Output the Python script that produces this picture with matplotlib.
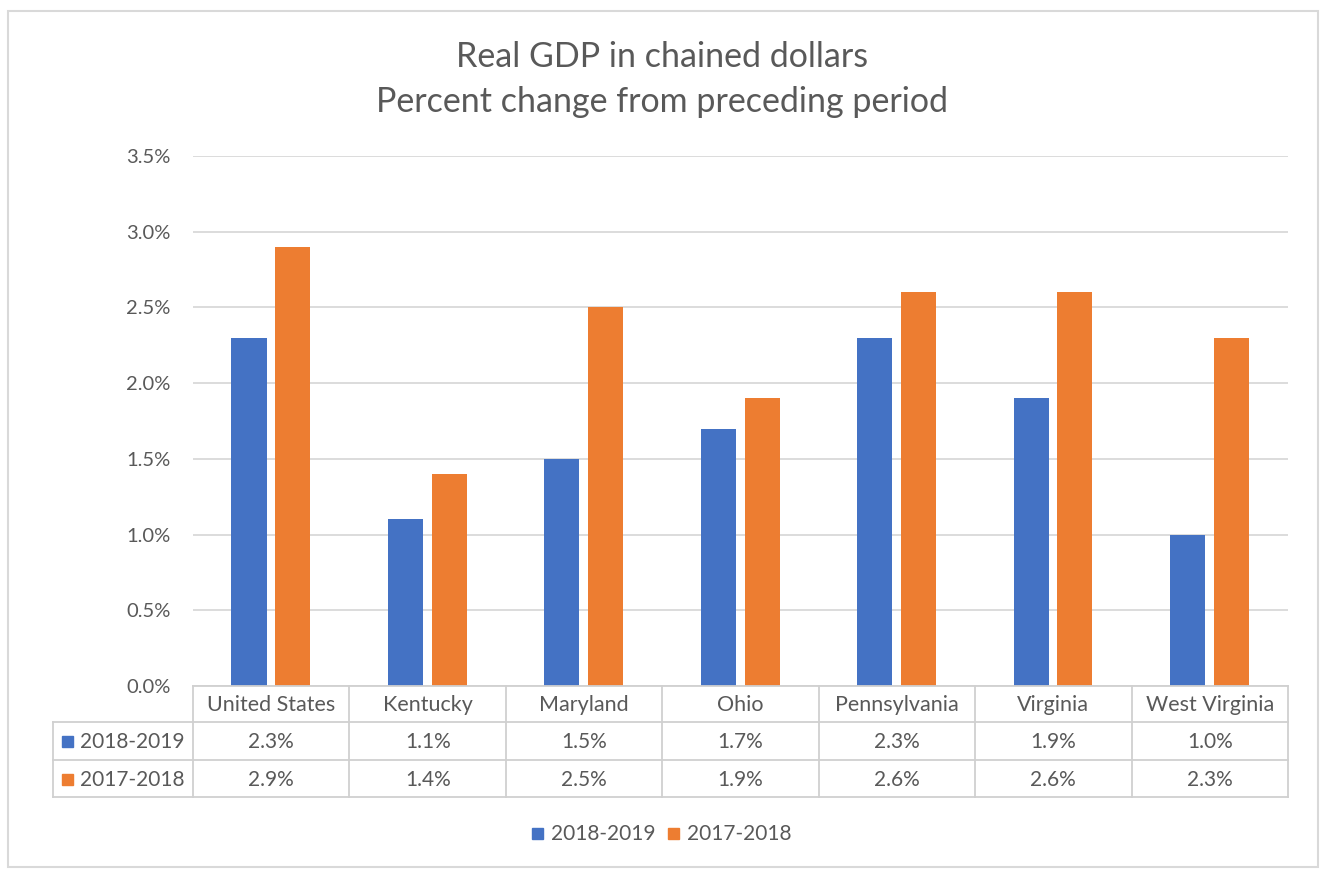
import numpy as np
import matplotlib.pyplot as plt
from matplotlib.patches import Rectangle

plt.rcParams['font.family'] = ['Lato', 'DejaVu Sans']

states = ['United States', 'Kentucky', 'Maryland', 'Ohio', 'Pennsylvania', 'Virginia', 'West Virginia']
gdp_2018_2019 = [2.3, 1.1, 1.5, 1.7, 2.3, 1.9, 1.0]
gdp_2017_2018 = [2.9, 1.4, 2.5, 1.9, 2.6, 2.6, 2.3]
series_names = ['2018-2019', '2017-2018']
y_ticks = [0.0, 0.5, 1.0, 1.5, 2.0, 2.5, 3.0, 3.5]

BLUE = '#4472c4'
ORANGE = '#ed7d31'
TEXT = '#595959'
GRID = '#d9d9d9'
W, H = 1321, 869


def fx(px):
    return px / W


def fy(py):
    return 1 - py / H


def main():
    fig = plt.figure(figsize=(W / 100, H / 100), dpi=100)

    # plot area
    left, right, top, bottom = 193, 1288, 156, 686
    ax = fig.add_axes([fx(left), fy(bottom), fx(right - left), (bottom - top) / H])
    x = np.arange(len(states))
    width = 0.224
    ax.bar(x - 0.142, gdp_2018_2019, width, color=BLUE, zorder=3)
    ax.bar(x + 0.138, gdp_2017_2018, width, color=ORANGE, zorder=3)
    ax.set_xlim(-0.5, len(states) - 0.5)
    ax.set_ylim(0, 3.5)
    ax.set_yticks(y_ticks)
    ax.set_yticklabels([f'{t:.1f}%' for t in y_ticks])
    ax.tick_params(axis='y', length=0, pad=16, labelsize=14.5, labelcolor=TEXT)
    ax.set_xticks([])
    ax.grid(axis='y', color=GRID, linewidth=1.3, zorder=0)
    for s in ax.spines.values():
        s.set_visible(False)

    # overlay in pixel coordinates for the frame, title, table and legend
    ov = fig.add_axes([0, 0, 1, 1], zorder=-1)
    ov.set_xlim(0, W)
    ov.set_ylim(H, 0)
    ov.axis('off')
    ov.add_patch(Rectangle((8, 11), 1310, 856, fill=False, edgecolor='#d9d9d9', linewidth=1.5))

    ov.text(W / 2 + 2, 57, 'Real GDP in chained dollars', ha='center', va='center',
            fontsize=24.5, color=TEXT)
    ov.text(W / 2 + 2, 102, 'Percent change from preceding period', ha='center', va='center',
            fontsize=24.5, color=TEXT)

    # data table under the axis
    col_w = (right - left) / len(states)
    rows = [686, 722, 760, 797]
    tab_left = 53
    lc = '#d0d0d0'
    lw = 1.3
    top_over = fig.add_axes([0, 0, 1, 1], zorder=5)
    top_over.set_xlim(0, W)
    top_over.set_ylim(H, 0)
    top_over.axis('off')
    top_over.plot([left, right], [rows[0], rows[0]], color=lc, lw=lw)
    for r in rows[1:]:
        top_over.plot([tab_left, right], [r, r], color=lc, lw=lw)
    top_over.plot([tab_left, tab_left], [rows[1], rows[3]], color=lc, lw=lw)
    for i in range(len(states) + 1):
        xx = left + i * col_w
        top_over.plot([xx, xx], [rows[0], rows[3]], color=lc, lw=lw)

    fs = 15
    for i, name in enumerate(states):
        cx = left + (i + 0.5) * col_w
        top_over.text(cx, (rows[0] + rows[1]) / 2 + 1, name, ha='center', va='center',
                      fontsize=15.5, color=TEXT)
        top_over.text(cx, (rows[1] + rows[2]) / 2 + 1, f'{gdp_2018_2019[i]:.1f}%', ha='center',
                      va='center', fontsize=fs, color=TEXT)
        top_over.text(cx, (rows[2] + rows[3]) / 2 + 1, f'{gdp_2017_2018[i]:.1f}%', ha='center',
                      va='center', fontsize=fs, color=TEXT)

    for k, (name, col) in enumerate(zip(series_names, [BLUE, ORANGE])):
        cy = (rows[k + 1] + rows[k + 2]) / 2
        top_over.add_patch(Rectangle((62, cy - 5), 11, 11, color=col))
        top_over.text(80, cy + 1, name, ha='left', va='center', fontsize=fs, color=TEXT)

    # legend
    leg_y = 833
    for name, col, x0 in zip(series_names, [BLUE, ORANGE], [532, 668]):
        top_over.add_patch(Rectangle((x0, leg_y - 5), 11, 11, color=col))
        top_over.text(x0 + 19, leg_y + 1, name, ha='left', va='center', fontsize=fs, color=TEXT)

    fig.savefig('out.png', dpi=100)


if __name__ == '__main__':
    main()
